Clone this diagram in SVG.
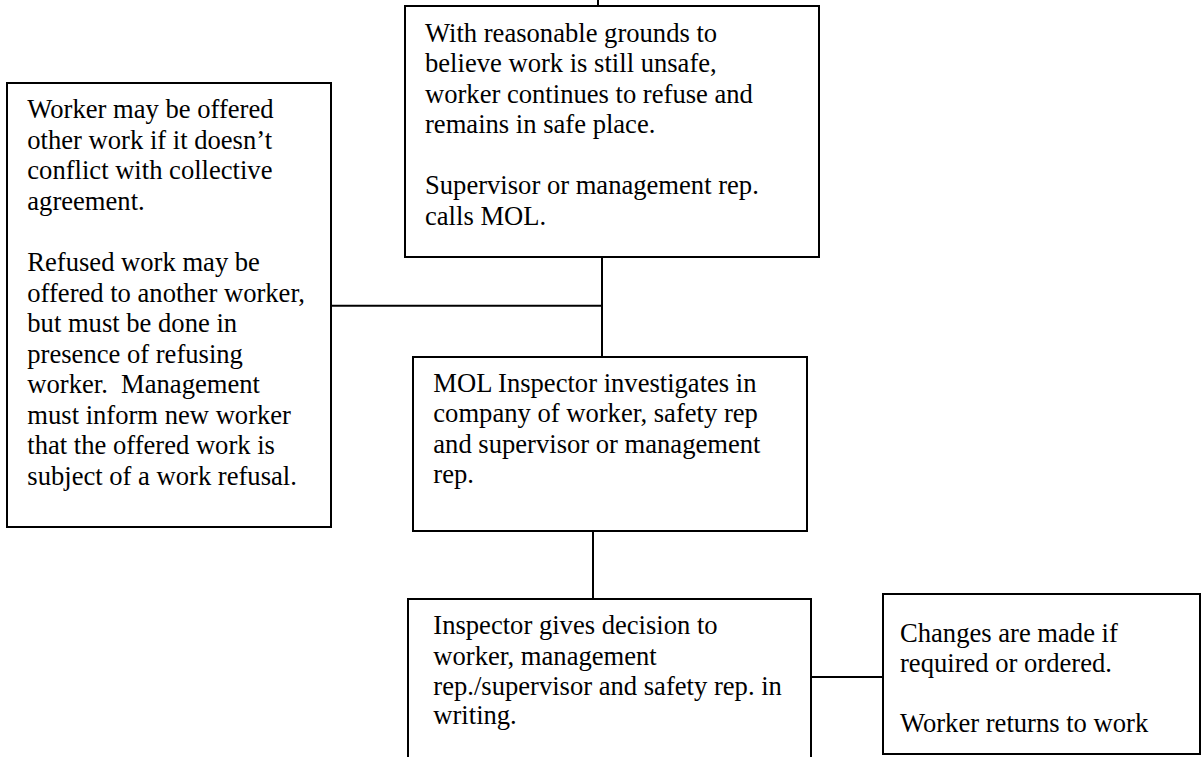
<svg xmlns="http://www.w3.org/2000/svg" width="1204" height="757" viewBox="0 0 1204 757">
<style>
.box{fill:#fff;stroke:#000;stroke-width:2}
.conn line{stroke:#000;stroke-width:2}
text{font-family:"Liberation Serif","Times New Roman",serif;font-size:26.6px;fill:#000}
</style>
<rect x="0" y="0" width="1204" height="757" fill="#fff"/>
<g id="connectors" class="conn">
<line x1="598" y1="0" x2="598" y2="6"/>
<line x1="602" y1="257" x2="602" y2="357"/>
<line x1="331" y1="305.7" x2="602" y2="305.7"/>
<line x1="593" y1="531" x2="593" y2="599"/>
<line x1="811" y1="677" x2="883" y2="677"/>
</g>
<g id="node-continue">
<rect class="box" x="405" y="6" width="414" height="251"/>
<text>
<tspan x="425" y="41.7">With reasonable grounds to</tspan>
<tspan x="425" y="72.2">believe work is still unsafe,</tspan>
<tspan x="425" y="102.7">worker continues to refuse and</tspan>
<tspan x="425" y="133.2">remains in safe place.</tspan>
<tspan x="425" y="194.2">Supervisor or management rep.</tspan>
<tspan x="425" y="224.7">calls MOL.</tspan>
</text>
</g>
<g id="node-other-work">
<rect class="box" x="7" y="83" width="324" height="444"/>
<text>
<tspan x="27.3" y="118.3">Worker may be offered</tspan>
<tspan x="27.3" y="148.9">other work if it doesn’t</tspan>
<tspan x="27.3" y="179.4">conflict with collective</tspan>
<tspan x="27.3" y="210">agreement.</tspan>
<tspan x="27.3" y="271.1">Refused work may be</tspan>
<tspan x="27.3" y="301.6">offered to another worker,</tspan>
<tspan x="27.3" y="332.2">but must be done in</tspan>
<tspan x="27.3" y="362.8">presence of refusing</tspan>
<tspan x="27.3" y="393.3">worker.&#160; Management</tspan>
<tspan x="27.3" y="423.9">must inform new worker</tspan>
<tspan x="27.3" y="454.4">that the offered work is</tspan>
<tspan x="27.3" y="485">subject of a work refusal.</tspan>
</text>
</g>
<g id="node-investigate">
<rect class="box" x="413" y="357" width="394" height="174"/>
<text>
<tspan x="433.3" y="391.7">MOL Inspector investigates in</tspan>
<tspan x="433.3" y="422.2">company of worker, safety rep</tspan>
<tspan x="433.3" y="452.7">and supervisor or management</tspan>
<tspan x="433.3" y="483.2">rep.</tspan>
</text>
</g>
<g id="node-decision">
<rect class="box" x="408" y="599" width="403" height="170"/>
<text>
<tspan x="433.3" y="634.3">Inspector gives decision to</tspan>
<tspan x="433.3" y="664.5">worker, management</tspan>
<tspan x="433.3" y="694.5">rep./supervisor and safety rep. in</tspan>
<tspan x="433.3" y="724">writing.</tspan>
</text>
</g>
<g id="node-return">
<rect class="box" x="883" y="594" width="317" height="160"/>
<text>
<tspan x="900" y="641.7">Changes are made if</tspan>
<tspan x="900" y="671.5">required or ordered.</tspan>
<tspan x="900" y="731.7">Worker returns to work</tspan>
</text>
</g>
</svg>
